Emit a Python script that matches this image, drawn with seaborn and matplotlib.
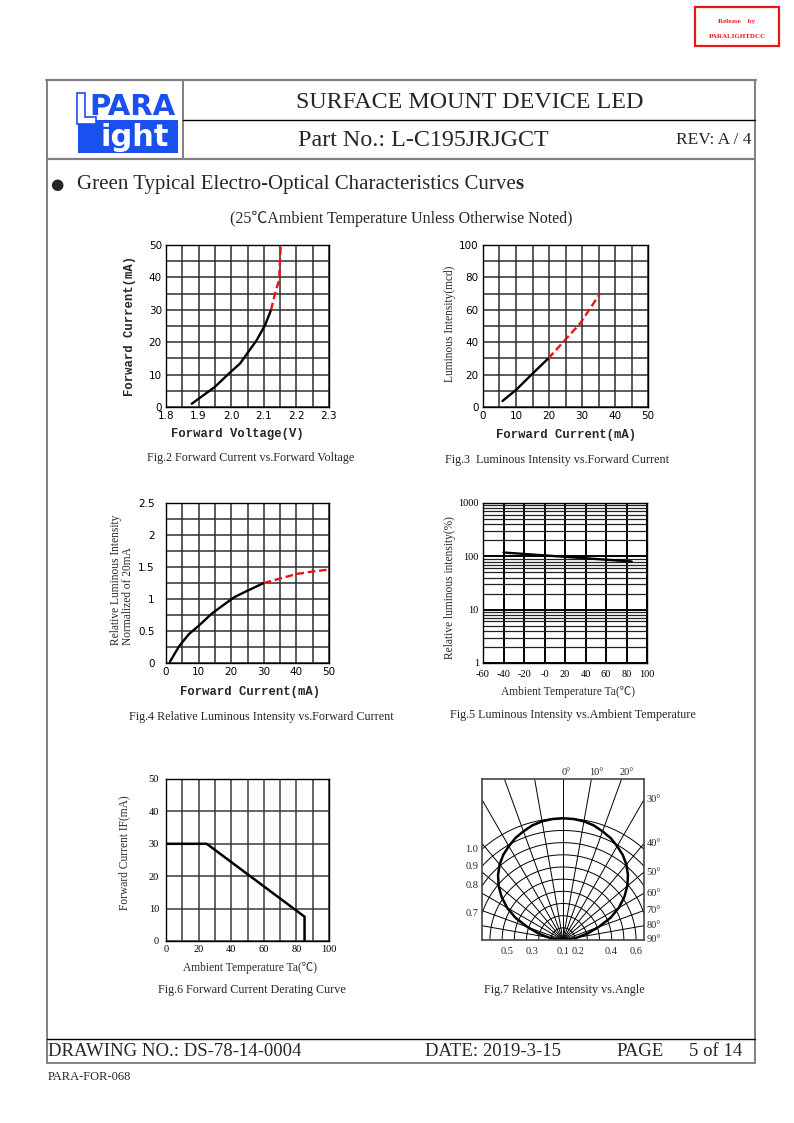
import numpy as np
import matplotlib
matplotlib.use("Agg")
import matplotlib.pyplot as plt
import seaborn as sns
from matplotlib.lines import Line2D
from matplotlib.patches import Rectangle, Polygon
from matplotlib.text import Annotation

# ---------------- data ----------------
# Fig.2 Forward Current vs Forward Voltage
fig2_v_solid = [1.879, 1.95, 1.998, 2.027, 2.078, 2.104, 2.122]
fig2_i_solid = [1.0, 6.2, 10.8, 13.4, 20.6, 25.3, 29.9]
fig2_v_dash = [2.122, 2.136, 2.147, 2.152]
fig2_i_dash = [29.9, 35.6, 39.2, 50.0]
fig2_xticks = [1.8, 1.9, 2.0, 2.1, 2.2, 2.3]
fig2_xlabels = ["1.8", "1.9", "2.0", "2.1", "2.2", "2.3"]
fig2_yticks = [0, 10, 20, 30, 40, 50]

# Fig.3 Luminous Intensity vs Forward Current
fig3_i_solid = [5.9, 10.1, 14.2, 19.8]
fig3_iv_solid = [3.7, 10.7, 19.0, 30.0]
fig3_i_dash = [19.8, 24.8, 29.4, 35.3]
fig3_iv_dash = [30.0, 41.2, 51.5, 69.5]
fig3_xticks = [0, 10, 20, 30, 40, 50]
fig3_yticks = [0, 20, 40, 60, 80, 100]

# Fig.4 Relative Luminous Intensity vs Forward Current
fig4_i_solid = [1.2, 4.0, 7.0, 10.0, 14.0, 18.0, 21.0, 25.0, 30.0]
fig4_rel_solid = [0.02, 0.26, 0.45, 0.58, 0.77, 0.92, 1.03, 1.13, 1.25]
fig4_i_dash = [30.0, 35.0, 40.0, 45.0, 50.0]
fig4_rel_dash = [1.25, 1.32, 1.39, 1.43, 1.46]
fig4_xticks = [0, 10, 20, 30, 40, 50]
fig4_yticks = [0, 0.5, 1, 1.5, 2, 2.5]
fig4_ylabels = ["0", "0.5", "1", "1.5", "2", "2.5"]

# Fig.5 Luminous Intensity vs Ambient Temperature
fig5_ta = [-40, 85]
fig5_rel = [118, 80]
fig5_xticks = [-60, -40, -20, 0, 20, 40, 60, 80, 100]
fig5_xlabels = ["-60", "-40", "-20", "-0", "20", "40", "60", "80", "100"]
fig5_yticks = [1, 10, 100, 1000]
fig5_ylabels = ["1", "10", "100", "1000"]

# Fig.6 Forward Current Derating Curve
fig6_ta = [0, 25, 85, 85]
fig6_if = [30, 30, 7.5, 0]
fig6_xticks = [0, 20, 40, 60, 80, 100]
fig6_yticks = [0, 10, 20, 30, 40, 50]

# Fig.7 Relative Intensity vs Angle
fig7_angle = [-90, -85, -80, -75, -70, -65, -60, -55, -50, -45, -40, -35, -30,
              -25, -20, -15, -10, -5, 0, 5, 10, 15, 20, 25, 30, 35, 40, 45,
              50, 55, 60, 65, 70, 75, 80, 85, 90]
fig7_rel = [0.0, 0.05, 0.12, 0.21, 0.31, 0.43, 0.53, 0.615, 0.69, 0.755, 0.81,
            0.855, 0.89, 0.925, 0.95, 0.975, 0.99, 0.998, 1.0, 0.998, 0.99,
            0.975, 0.95, 0.925, 0.89, 0.855, 0.81, 0.755, 0.69, 0.615, 0.53,
            0.43, 0.31, 0.21, 0.12, 0.05, 0.0]
fig7_right_angles = [30, 40, 50, 60, 70, 80, 90]
fig7_top_angles = [0, 10, 20]
fig7_left_radii = [1.0, 0.9, 0.8, 0.7]
fig7_bottom_labels = ["0.5", "0.3", "0.1", "0.2", "0.4", "0.6"]

# ---------------- style ----------------
sns.set_theme(style="white")
plt.rcParams["font.family"] = ["DejaVu Sans"]
SERIF = ["Liberation Serif", "Noto Sans CJK SC"]
MONO = ["Liberation Mono", "DejaVu Sans Mono"]

W, H = 794, 1123
fig = plt.figure(figsize=(W / 100, H / 100), dpi=100)
fig.patch.set_facecolor("white")


def add_ax(l, t, r, b):
    ax = fig.add_axes([l / W, 1 - b / H, (r - l) / W, (b - t) / H])
    ax._pxbox = (l, t, r, b)
    return ax


def ftext(x, y, s, **kw):
    kw.setdefault("va", "center")
    return fig.text(x / W, 1 - y / H, s, **kw)


def fline(xs, ys, **kw):
    fig.add_artist(Line2D([x / W for x in xs], [1 - y / H for y in ys], **kw))


def ax_text(ax, px, py, s, **kw):
    l, t, r, b = ax._pxbox
    kw.setdefault("ha", "center")
    kw.setdefault("va", "center")
    ax.text((px - l) / (r - l), (b - py) / (b - t), s, transform=ax.transAxes,
            clip_on=False, **kw)


def style_grid_ax(ax, lw=1.1, color="#2e2e2e"):
    ax.set_facecolor("white")
    for sp in ax.spines.values():
        sp.set_visible(True)
        sp.set_color("black")
        sp.set_linewidth(1.0)
    ax.grid(True, which="both", color=color, linewidth=lw)
    ax.set_axisbelow(True)
    ax.tick_params(which="both", length=0, colors="black")


# ---------------- page frame ----------------
GRAY = "#808080"
fline([46, 756], [80, 80], color=GRAY, lw=1.6)
fline([47, 47], [80, 1063], color=GRAY, lw=1.4)
fline([755, 755], [80, 1063], color=GRAY, lw=1.4)
fline([183, 183], [80, 159], color=GRAY, lw=1.4)
fline([183, 755], [120, 120], color="black", lw=1.0)
fline([47, 755], [159, 159], color=GRAY, lw=1.6)
fline([47, 755], [1039, 1039], color="black", lw=1.0)
fline([47, 755], [1063, 1063], color=GRAY, lw=1.4)

# release stamp
fig.add_artist(Rectangle((695 / W, 1 - 46 / H), 84 / W, 39 / H, fill=False,
                         edgecolor="#e8161b", lw=1.6, transform=fig.transFigure))
ftext(737, 21, "Release    by", ha="center", fontsize=5, color="#e8161b",
      family=SERIF, fontweight="bold")
ftext(737, 36, "PARALIGHTDCC", ha="center", fontsize=5, color="#e8161b",
      family=SERIF, fontweight="bold")

# logo
BLUE = "#1a4ff0"
fig.add_artist(Rectangle((78 / W, 1 - 153 / H), 100 / W, 33 / H, facecolor=BLUE,
                         edgecolor="none", transform=fig.transFigure))
lpts = [(77, 93), (85, 93), (85, 117), (96, 117), (96, 124), (77, 124)]
fig.add_artist(Polygon([(x / W, 1 - y / H) for x, y in lpts], closed=True,
                       facecolor="white", edgecolor=BLUE, lw=1.2,
                       transform=fig.transFigure))
ftext(132, 107, "PARA", ha="center", fontsize=21, color=BLUE, fontweight="bold",
      family=["DejaVu Sans"])
ftext(135, 137, "ight", ha="center", fontsize=22, color="white", fontweight="bold",
      family=["DejaVu Sans"])

# header texts
ftext(470, 102, "SURFACE MOUNT DEVICE LED", ha="center", fontsize=17.3, family=SERIF)
ftext(298, 141, "Part No.: L-C195JRJGCT", ha="left", fontsize=17.3, family=SERIF)
ftext(751, 140, "REV: A / 4", ha="right", fontsize=12.5, family=SERIF)
ftext(57, 185, "●", ha="center", fontsize=11, family=["DejaVu Sans"])
t_green = ftext(77, 185, "Green Typical Electro-Optical Characteristics Curve",
                ha="left", fontsize=15, family=SERIF)
fig.add_artist(Annotation("s", xy=(1, 0), xycoords=t_green, ha="left", va="bottom",
                          fontsize=15, family=SERIF, fontweight="bold"))
ftext(401, 219, "(25℃Ambient Temperature Unless Otherwise Noted)", ha="center",
      fontsize=11.5, family=SERIF)

# footer texts
ftext(48, 1051, "DRAWING NO.: DS-78-14-0004", ha="left", fontsize=13.5, family=SERIF)
ftext(425, 1051, "DATE: 2019-3-15", ha="left", fontsize=13.5, family=SERIF)
ftext(616, 1051, "PAGE", ha="left", fontsize=13.5, family=SERIF)
ftext(742, 1051, "5 of 14", ha="right", fontsize=13.5, family=SERIF)
ftext(48, 1077, "PARA-FOR-068", ha="left", fontsize=9, family=SERIF)

# captions
cap_kw = dict(ha="center", fontsize=8.7, family=SERIF)
ftext(251, 458, "Fig.2 Forward Current vs.Forward Voltage", **cap_kw)
ftext(557, 460, "Fig.3  Luminous Intensity vs.Forward Current", **cap_kw)
ftext(261, 717, "Fig.4 Relative Luminous Intensity vs.Forward Current", **cap_kw)
ftext(573, 715, "Fig.5 Luminous Intensity vs.Ambient Temperature", **cap_kw)
ftext(252, 990, "Fig.6 Forward Current Derating Curve", **cap_kw)
ftext(564, 990, "Fig.7 Relative Intensity vs.Angle", **cap_kw)

RED = "#ee1111"
DASH = (0, (3.2, 1.6))
TICK_SANS = dict(labelsize=7.5, labelfontfamily="DejaVu Sans")
TICK_SERIF = dict(labelsize=7.5, labelfontfamily="Liberation Serif")

# ---------------- Fig.2 ----------------
ax = add_ax(166, 245, 329, 407)
style_grid_ax(ax)
sns.lineplot(x=fig2_v_solid, y=fig2_i_solid, ax=ax, color="black", lw=1.7,
             sort=False, estimator=None)
sns.lineplot(x=fig2_v_dash, y=fig2_i_dash, ax=ax, color=RED, lw=1.7,
             linestyle=DASH, sort=False, estimator=None)
ax.set_xlim(1.8, 2.3)
ax.set_ylim(0, 50)
ax.set_xticks(fig2_xticks)
ax.set_xticklabels(fig2_xlabels)
ax.set_xticks(np.arange(1.85, 2.3, 0.1), minor=True)
ax.set_yticks(fig2_yticks)
ax.set_yticks(np.arange(5, 50, 10), minor=True)
ax.tick_params(axis="both", pad=3, **TICK_SANS)
ax.set_xlabel("")
ax.set_ylabel("")
ax_text(ax, 237, 434, "Forward Voltage(V)", fontsize=8.8, family=MONO, fontweight="bold")
ax_text(ax, 130, 326, "Forward Current(mA)", fontsize=8.8, family=MONO,
        fontweight="bold", rotation=90)

# ---------------- Fig.3 ----------------
ax = add_ax(483, 245, 648, 407)
style_grid_ax(ax)
sns.lineplot(x=fig3_i_solid, y=fig3_iv_solid, ax=ax, color="black", lw=1.7,
             sort=False, estimator=None)
sns.lineplot(x=fig3_i_dash, y=fig3_iv_dash, ax=ax, color=RED, lw=1.7,
             linestyle=DASH, sort=False, estimator=None)
ax.set_xlim(0, 50)
ax.set_ylim(0, 100)
ax.set_xticks(fig3_xticks)
ax.set_xticks(np.arange(5, 50, 10), minor=True)
ax.set_yticks(fig3_yticks)
ax.set_yticks(np.arange(10, 100, 20), minor=True)
ax.tick_params(axis="both", pad=3, **TICK_SANS)
ax_text(ax, 566, 435, "Forward Current(mA)", fontsize=8.8, family=MONO, fontweight="bold")
ax_text(ax, 450, 324, "Luminous Intensity(mcd)", fontsize=8.3, family=SERIF, rotation=90)

# ---------------- Fig.4 ----------------
ax = add_ax(166, 503, 329, 663)
style_grid_ax(ax)
sns.lineplot(x=fig4_i_solid, y=fig4_rel_solid, ax=ax, color="black", lw=1.7,
             sort=False, estimator=None)
sns.lineplot(x=fig4_i_dash, y=fig4_rel_dash, ax=ax, color=RED, lw=1.7,
             linestyle=DASH, sort=False, estimator=None)
ax.set_xlim(0, 50)
ax.set_ylim(0, 2.5)
ax.set_xticks(fig4_xticks)
ax.set_xticks(np.arange(5, 50, 10), minor=True)
ax.set_yticks(fig4_yticks)
ax.set_yticklabels(fig4_ylabels)
ax.set_yticks(np.arange(0.25, 2.5, 0.5), minor=True)
ax.tick_params(axis="y", pad=8, **TICK_SANS)
ax.tick_params(axis="x", pad=3, **TICK_SANS)
ax_text(ax, 250, 692, "Forward Current(mA)", fontsize=8.8, family=MONO, fontweight="bold")
ax_text(ax, 122, 580, "Relative Luminous Intensity\nNormalized of 20mA", fontsize=8.3,
        family=SERIF, rotation=90, multialignment="left", linespacing=1.0)

# ---------------- Fig.5 ----------------
ax = add_ax(483, 503, 647, 663)
ax.set_facecolor("white")
for sp in ax.spines.values():
    sp.set_visible(True)
    sp.set_color("black")
    sp.set_linewidth(1.0)
sns.lineplot(x=fig5_ta, y=fig5_rel, ax=ax, color="black", lw=1.7,
             sort=False, estimator=None)
ax.set_yscale("log")
ax.set_xlim(-60, 100)
ax.set_ylim(1, 1000)
ax.set_xticks(fig5_xticks)
ax.set_xticklabels(fig5_xlabels)
minor_y = [m * 10 ** d for d in range(3) for m in range(2, 10)]
ax.set_yticks(minor_y, minor=True)
ax.yaxis.set_minor_formatter(matplotlib.ticker.NullFormatter())
ax.set_yticks(fig5_yticks)
ax.set_yticklabels(fig5_ylabels)
ax.grid(True, which="major", color="black", linewidth=1.4)
ax.grid(True, which="minor", axis="y", color="#222222", linewidth=0.9)
ax.set_axisbelow(True)
ax.tick_params(which="both", length=0, colors="black")
ax.tick_params(axis="y", pad=3, **TICK_SERIF)
ax.tick_params(axis="x", pad=5, **TICK_SERIF)
ax_text(ax, 568, 692, "Ambient Temperature Ta(℃)", fontsize=8.3, family=SERIF)
ax_text(ax, 450, 588, "Relative luminous intensity(%)", fontsize=8.3, family=SERIF,
        rotation=90)

# ---------------- Fig.6 ----------------
ax = add_ax(166, 779, 329, 941)
style_grid_ax(ax, lw=1.1, color="#3a3a3a")
sns.lineplot(x=fig6_ta, y=fig6_if, ax=ax, color="black", lw=1.8,
             sort=False, estimator=None)
ax.set_xlim(0, 100)
ax.set_ylim(0, 50)
ax.set_xticks(fig6_xticks)
ax.set_xticks(np.arange(10, 100, 20), minor=True)
ax.set_yticks(fig6_yticks)
ax.tick_params(axis="y", pad=5, **TICK_SERIF)
ax.tick_params(axis="x", pad=3, **TICK_SERIF)
ax_text(ax, 250, 968, "Ambient Temperature Ta(℃)", fontsize=8.3, family=SERIF)
ax_text(ax, 124, 853, "Forward Current IF(mA)", fontsize=8.3, family=SERIF, rotation=90)

# ---------------- Fig.7 ----------------
ax = add_ax(482, 779, 644, 940)
UNIT = 121.7  # px per 1.0 relative intensity
xr = 81 / UNIT
ytop = 161 / UNIT
ax.set_facecolor("white")
for sp in ax.spines.values():
    sp.set_visible(True)
    sp.set_color("#444444")
    sp.set_linewidth(1.2)
ax.set_xticks([])
ax.set_yticks([])
ax.grid(False)
for a in range(-90, 91, 10):
    t = np.deg2rad(a)
    ax.plot([0, 3 * np.sin(t)], [0, 3 * np.cos(t)], color="black", lw=0.7)
tt = np.deg2rad(np.linspace(-90, 90, 300))
for r in np.arange(0.1, 1.01, 0.1):
    ax.plot(r * np.sin(tt), r * np.cos(tt), color="black", lw=0.7)
ang = np.deg2rad(np.array(fig7_angle, dtype=float))
rel = np.array(fig7_rel)
sns.lineplot(x=rel * np.sin(ang), y=rel * np.cos(ang), ax=ax, color="black", lw=1.8,
             sort=False, estimator=None)
ax.set_xlim(-xr, xr)
ax.set_ylim(0, ytop)
lab_kw = dict(fontsize=7.5, family=SERIF, clip_on=False)
for a in fig7_right_angles:
    y = 0.0 if a == 90 else xr / np.tan(np.deg2rad(a))
    ax.text(xr + 0.02, y, f"{a}°", ha="left", va="center", **lab_kw)
for a in fig7_top_angles:
    x = ytop * np.tan(np.deg2rad(a)) + (3 if a == 0 else 5) / UNIT
    ax.text(x, ytop + 0.02, f"{a}°", ha="center", va="bottom", **lab_kw)
for r in fig7_left_radii:
    y = np.sqrt(r ** 2 - xr ** 2)
    ax.text(-xr - 0.03, y, f"{r:.1f}", ha="right", va="center", **lab_kw)
for s, off in zip(fig7_bottom_labels, [-56, -31, 0, 15, 48, 73]):
    ax.text(off / UNIT, -11 / UNIT, s, ha="center", va="center", **lab_kw)

fig.savefig("out.png", dpi=100, facecolor="white")
